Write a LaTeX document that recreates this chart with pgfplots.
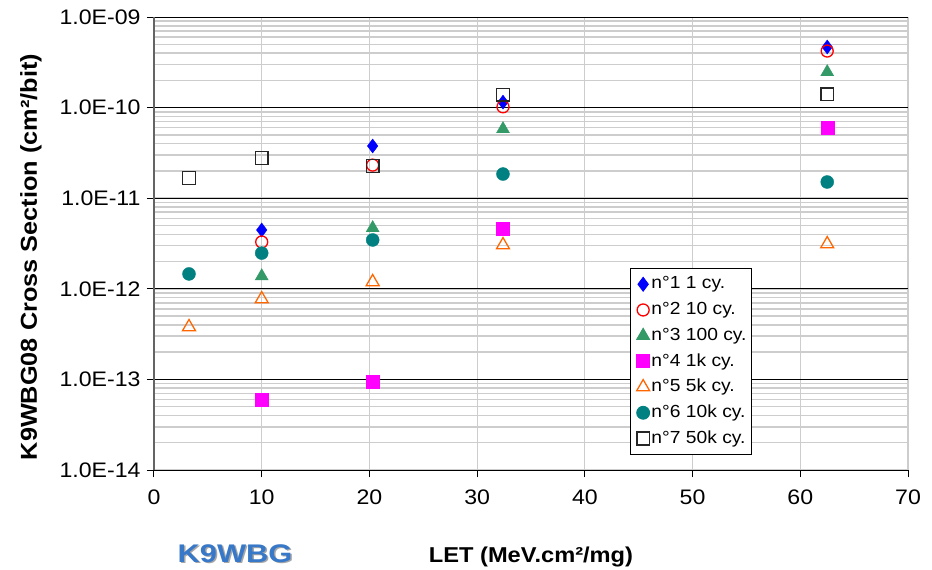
\documentclass[border=0pt]{standalone}
\usepackage{fontspec}
\setmainfont{Liberation Sans}[FakeStretch=1.1]
\newfontfamily\kfont{Liberation Sans}[FakeStretch=1.21]
\usepackage{pgfplots}
\pgfplotsset{compat=1.18}
\definecolor{sgreen}{RGB}{51,153,102}
\definecolor{oran}{RGB}{255,102,0}
\definecolor{teal2}{RGB}{0,128,128}
\definecolor{magen}{RGB}{255,0,255}
\definecolor{gridgray}{RGB}{205,205,205}
\definecolor{axgray}{RGB}{100,100,100}
\definecolor{kblue}{RGB}{55,120,200}
\begin{document}
\begin{tikzpicture}[x=1bp,y=1bp]
\begin{axis}[
 scale only axis, width=754bp, height=453bp,
 ymode=log, xmin=0, xmax=70, ymin=1e-14, ymax=1e-9,
 xtick={0,10,...,70},
 ytick={1e-14,1e-13,1e-12,1e-11,1e-10,1e-9},
 yticklabels={1.0E-14,1.0E-13,1.0E-12,1.0E-11,1.0E-10,1.0E-09},
 /pgf/number format/assume math mode=true,
 axis lines=left, axis line style={-},
 x axis line style={black, line width=1bp},
 y axis line style={axgray, line width=1.5bp},
 tick align=outside, major tick length=7bp, minor tick length=0bp,
 tick style={black, line width=1bp},
 xmajorgrids, ymajorgrids, yminorgrids,
 major x grid style={gridgray, line width=1.2bp},
 major y grid style={black, line width=1bp},
 minor y grid style={gridgray, line width=1.5bp},
 ticklabel style={font=\fontsize{21bp}{25bp}\selectfont},
 xticklabel style={yshift=-9bp},
 yticklabel style={xshift=-3bp},
 xlabel={\textbf{LET (MeV.cm²/mg)}},
 ylabel={\textbf{K9WBG08 Cross Section (cm²/bit)}},
 every axis x label/.style={at={([yshift=-92bp]axis description cs:0.5,0)}, anchor=base, font=\fontsize{21.5bp}{25bp}\selectfont},
 every axis y label/.style={at={([xshift=-117bp]axis description cs:0,0.47)}, rotate=90, anchor=base, font=\fontsize{23bp}{27bp}\selectfont},
 legend cell align=left,
 legend image code/.code={\draw plot coordinates {(0bp,0bp)}; \path (-9bp,0bp);},
 legend style={at={(axis description cs:0.6313,0.4459)}, anchor=north west,
   draw=black, line width=0.8bp, fill=white, inner xsep=3bp, inner ysep=3bp,
   font=\fontsize{17.5bp}{20bp}\selectfont,
   nodes={inner xsep=1.8bp, inner ysep=4.5bp, text height=13bp, text depth=3.7bp}},
 clip=false,
]
\addplot[only marks, mark=diamond*, mark size=7bp, color=blue] coordinates {
(10.0,4.46e-12) (20.3,3.77e-11) (32.4,1.15e-10) (62.5,4.67e-10)};
\addlegendentry{n°1 1 cy.}
\addplot[only marks, mark=o, mark size=6bp, color=red, line width=1.3bp] coordinates {
(10.0,3.29e-12) (20.3,2.32e-11) (32.4,1.02e-10) (62.5,4.21e-10)};
\addlegendentry{n°2 10 cy.}
\addplot[only marks, mark=triangle*, mark size=7.5bp, color=sgreen] coordinates {
(10.0,1.38e-12) (20.3,4.69e-12) (32.4,5.8e-11) (62.5,2.47e-10)};
\addlegendentry{n°3 100 cy.}
\addplot[only marks, mark=square*, mark size=6.5bp, color=magen] coordinates {
(10.0,5.93e-14) (20.3,9.36e-14) (32.4,4.57e-12) (62.5,5.96e-11)};
\addlegendentry{n°4 1k cy.}
\addplot[only marks, mark=triangle, mark size=7.5bp, color=oran, line width=1.3bp] coordinates {
(3.25,3.79e-13) (10.0,7.71e-13) (20.3,1.19e-12) (32.4,3.04e-12) (62.5,3.12e-12)};
\addlegendentry{n°5 5k cy.}
\addplot[only marks, mark=*, mark size=6.5bp, color=teal2] coordinates {
(3.25,1.46e-12) (10.0,2.48e-12) (20.3,3.46e-12) (32.4,1.85e-11) (62.5,1.51e-11)};
\addlegendentry{n°6 10k cy.}
\addplot[only marks, mark=square, mark size=6.3bp, color=black!85, line width=1.5bp] coordinates {
(3.25,1.67e-11) (10.0,2.78e-11) (20.3,2.27e-11) (32.4,1.38e-10) (62.5,1.41e-10)};
\addlegendentry{n°7 50k cy.}
\end{axis}
\node[anchor=base, text=black!35, font=\kfont\bfseries\fontsize{25.5bp}{30bp}\selectfont] at (82.5bp,-93.5bp) {K9WBG};
\node[anchor=base, text=kblue, font=\kfont\bfseries\fontsize{25.5bp}{30bp}\selectfont] at (81bp,-92bp) {K9WBG};
\pgfresetboundingbox
\path (-154bp,-100bp) rectangle (778bp,470bp);
\end{tikzpicture}
\end{document}
